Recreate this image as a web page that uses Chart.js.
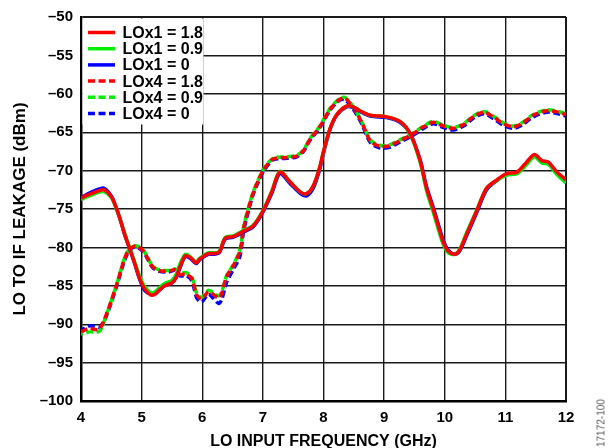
<!DOCTYPE html>
<html>
<head>
<meta charset="utf-8">
<script src="https://cdn.jsdelivr.net/npm/chart.js@4.4.1/dist/chart.umd.min.js"></script>
<style>
  html, body { margin: 0; padding: 0; background: #fff; }
  #wrap { position: relative; width: 611px; height: 448px; overflow: hidden; }
  #fig-id {
    position: absolute; left: 601px; top: 423px;
    transform: translate(-50%, -50%) rotate(-90deg);
    font: 10px 'Liberation Sans', Arial, sans-serif; color: #555; white-space: nowrap;
  }
</style>
</head>
<body>
<div id="wrap">
  <canvas id="chart" width="611" height="448"></canvas>
  <div id="fig-id">17172-100</div>
</div>
<script>
// LO to IF leakage vs LO input frequency

const seriesLabels = ['LOx1 = 1.8', 'LOx1 = 0.9', 'LOx1 = 0', 'LOx4 = 1.8', 'LOx4 = 0.9', 'LOx4 = 0'];
const seriesColors = ['#ff0000', '#00ee00', '#0000ff', '#ff0000', '#00ee00', '#0000ff'];

// LOx1 curves (solid), GHz
const freqSolid = [4.0, 4.1, 4.2, 4.3, 4.38, 4.5, 4.56, 4.64, 4.72, 4.8, 4.89, 4.97, 5.05, 5.15, 5.22,
  5.3, 5.38, 5.5, 5.57, 5.63, 5.72, 5.8, 5.9, 5.96, 6.1, 6.18, 6.28, 6.38, 6.51, 6.68, 6.84, 7.0, 7.15,
  7.28, 7.45, 7.62, 7.72, 7.83, 7.94, 8.0, 8.11, 8.22, 8.38, 8.49, 8.6, 8.77, 9.04, 9.26, 9.43, 9.59,
  9.7, 9.81, 9.92, 9.98, 10.06, 10.17, 10.25, 10.36, 10.53, 10.69, 10.86, 11.02, 11.19, 11.35, 11.48,
  11.6, 11.71, 11.85, 12.0];

const lox1_18 = [-73.6, -73.2, -72.9, -72.6, -72.5, -73.4, -74.4, -76.2, -78.3, -80.1, -82.2, -84.1, -85.4, -86.2, -86.1,
  -85.5, -85.0, -84.6, -83.9, -82.6, -81.1, -81.3, -82.0, -81.5, -80.8, -80.8, -80.6, -78.8, -78.6, -77.9, -77.2, -75.3, -72.7,
  -70.2, -71.5, -72.8, -73.0, -72.0, -69.5, -67.5, -64.5, -62.7, -61.6, -61.7, -62.2, -62.8, -63.0, -63.6, -65.2, -68.6,
  -72.3, -75.0, -77.9, -79.4, -80.5, -80.9, -80.3, -78.3, -75.2, -72.3, -71.2, -70.4, -70.2, -68.9, -67.9,
  -68.7, -68.9, -70.2, -71.2];

const lox1_09 = [-73.8, -73.4, -73.1, -72.8, -72.7, -73.5, -74.5, -76.2, -78.2, -80.0, -82.0, -83.8, -85.1, -85.9, -85.8,
  -85.2, -84.7, -84.3, -83.5, -82.2, -80.9, -81.2, -81.9, -81.4, -80.7, -80.7, -80.5, -78.7, -78.5, -77.8, -77.1, -75.2, -72.6,
  -70.1, -71.5, -72.8, -73.0, -72.0, -69.5, -67.5, -64.5, -62.7, -61.6, -61.7, -62.2, -62.8, -63.0, -63.6, -65.3, -68.8,
  -72.6, -75.4, -78.3, -79.7, -80.7, -80.9, -80.2, -78.1, -75.1, -72.3, -71.3, -70.6, -70.4, -69.2, -68.2,
  -69.0, -69.2, -70.5, -71.6];

const lox1_0 = [-73.5, -73.1, -72.7, -72.4, -72.3, -73.3, -74.4, -76.2, -78.3, -80.1, -82.2, -84.2, -85.6, -86.1, -86.0,
  -85.5, -85.0, -84.6, -83.9, -82.7, -81.2, -81.4, -82.1, -81.6, -80.9, -80.9, -80.7, -78.9, -78.7, -78.0, -77.3, -75.4, -72.9,
  -70.4, -71.7, -73.0, -73.3, -72.3, -69.8, -67.7, -64.6, -62.8, -61.7, -61.8, -62.3, -62.9, -63.1, -63.7, -65.2, -68.5,
  -72.1, -74.8, -77.7, -79.2, -80.4, -80.9, -80.4, -78.5, -75.4, -72.5, -71.3, -70.5, -70.3, -69.0, -68.0,
  -68.8, -69.0, -70.3, -71.3];

// LOx4 curves (dashed), GHz
const freqDash = [4.0, 4.08, 4.15, 4.23, 4.31, 4.42, 4.59, 4.75, 4.89, 5.03, 5.17, 5.28, 5.44, 5.55, 5.63,
  5.74, 5.83, 5.91, 5.99, 6.1, 6.18, 6.27, 6.32, 6.4, 6.51, 6.62, 6.68, 6.76, 6.84, 6.93, 7.01, 7.17,
  7.39, 7.56, 7.67, 7.78, 7.94, 8.11, 8.27, 8.36, 8.49, 8.63, 8.77, 8.91, 9.07, 9.26, 9.48, 9.65, 9.81,
  9.98, 10.14, 10.31, 10.47, 10.64, 10.8, 10.97, 11.13, 11.27, 11.46, 11.68, 11.82, 12.0];

const lox4_18 = [-91.0, -90.7, -90.5, -90.7, -90.6, -88.7, -84.8, -80.9, -79.8, -80.5, -82.4, -83.0, -83.1, -82.9, -83.5,
  -83.5, -84.1, -86.2, -86.7, -85.8, -86.1, -86.6, -86.0, -83.8, -82.4, -80.5, -77.6, -75.0, -72.9, -71.2, -69.9, -68.5,
  -68.3, -68.1, -67.4, -65.9, -64.3, -62.0, -60.7, -60.6, -61.8, -63.7, -66.1, -66.8, -66.8, -66.1, -65.2, -64.3, -63.7,
  -64.2, -64.5, -64.0, -63.0, -62.4, -63.0, -63.9, -64.3, -63.9, -62.8, -62.2, -62.3, -62.7];

const lox4_09 = [-91.3, -91.1, -91.0, -91.0, -90.9, -88.8, -84.8, -80.8, -79.8, -80.4, -82.3, -82.9, -83.0, -82.8, -83.3,
  -83.3, -83.9, -86.0, -86.5, -85.6, -85.9, -86.3, -85.8, -83.7, -82.3, -80.3, -77.4, -74.9, -72.8, -71.1, -69.8, -68.4,
  -68.2, -68.0, -67.3, -65.8, -64.2, -61.9, -60.6, -60.5, -61.7, -63.6, -66.0, -66.7, -66.7, -66.0, -65.1, -64.2, -63.6,
  -64.1, -64.4, -63.9, -62.9, -62.3, -62.9, -63.8, -64.2, -63.8, -62.7, -62.1, -62.2, -62.6];

const lox4_0 = [-90.9, -90.4, -90.2, -90.3, -90.4, -88.9, -85.0, -81.1, -79.9, -80.6, -82.5, -83.1, -83.2, -83.0, -83.7,
  -83.7, -84.4, -86.6, -87.1, -86.1, -86.6, -87.3, -86.8, -84.6, -82.9, -81.2, -78.0, -75.3, -73.1, -71.4, -70.1, -68.6,
  -68.4, -68.2, -67.5, -66.0, -64.4, -62.1, -60.8, -60.8, -62.0, -63.9, -66.3, -67.0, -67.0, -66.3, -65.4, -64.5, -63.9,
  -64.4, -64.7, -64.2, -63.2, -62.6, -63.2, -64.1, -64.5, -64.1, -63.0, -62.4, -62.5, -62.9];

const xTicks = [4, 5, 6, 7, 8, 9, 10, 11, 12];
const yTicks = [-100, -95, -90, -85, -80, -75, -70, -65, -60, -55, -50];

const FONT = "'Liberation Sans', Arial, sans-serif";
Chart.defaults.font.family = FONT;
Chart.defaults.color = '#000';

function pts(xs, ys) {
  return xs.map((x, i) => ({ x, y: ys[i] }));
}

function makeSet(i, xs, ys, dashed, dashOffset) {
  return {
    label: seriesLabels[i],
    data: pts(xs, ys),
    borderColor: seriesColors[i],
    borderWidth: 3.5,
    borderDash: dashed ? [7, 3.5] : [],
    borderDashOffset: dashOffset || 0,
    pointRadius: 0,
    tension: 0.3,
    fill: false
  };
}

// legend drawn inside the plot, top-left, on a white box
const insideLegend = {
  id: 'insideLegend',
  afterDatasetsDraw(chart) {
    const ctx = chart.ctx;
    const a = chart.chartArea;
    ctx.save();
    ctx.fillStyle = '#fff';
    ctx.fillRect(a.left + 1.5, a.top + 1.5, 121, 106);
    ctx.font = 'bold 16px ' + FONT;
    ctx.textBaseline = 'middle';
    ctx.textAlign = 'left';
    chart.data.datasets.forEach((ds, i) => {
      const y = a.top + 15.5 + i * 16.2;
      ctx.strokeStyle = ds.borderColor;
      ctx.lineWidth = 3.5;
      ctx.setLineDash(ds.borderDash || []);
      ctx.beginPath();
      ctx.moveTo(a.left + 7, y);
      ctx.lineTo(a.left + 34, y);
      ctx.stroke();
      ctx.setLineDash([]);
      ctx.fillStyle = '#000';
      ctx.fillText(ds.label, a.left + 41.5, y + 1);
    });
    ctx.restore();
  }
};

const edgeWidth = (n) => (c) => (c.index === 0 || c.index === n - 1) ? 2 : 1.4;

new Chart(document.getElementById('chart'), {
  type: 'line',
  data: {
    datasets: [
      makeSet(0, freqSolid, lox1_18, false),
      makeSet(1, freqSolid, lox1_09, false),
      makeSet(2, freqSolid, lox1_0, false),
      makeSet(3, freqDash, lox4_18, true, 0),
      makeSet(4, freqDash, lox4_09, true, 5),
      makeSet(5, freqDash, lox4_0, true, 2)
    ]
  },
  options: {
    responsive: false,
    animation: false,
    devicePixelRatio: 1,
    layout: { padding: { top: 14, right: 45, bottom: 0, left: 0 } },
    plugins: {
      legend: { display: false },
      tooltip: { enabled: false }
    },
    scales: {
      x: {
        type: 'linear',
        min: xTicks[0],
        max: xTicks[xTicks.length - 1],
        afterBuildTicks: (s) => { s.ticks = xTicks.map(v => ({ value: v })); },
        afterFit: (s) => { s.height = 47; },
        ticks: { font: { size: 15, weight: 'bold' }, padding: 8, maxRotation: 0 },
        grid: { color: '#1a1a1a', lineWidth: edgeWidth(xTicks.length), drawTicks: false },
        border: { color: '#000', width: 2.5 },
        title: {
          display: true,
          text: 'LO INPUT FREQUENCY (GHz)',
          font: { size: 16, weight: 'bold', lineHeight: 1 },
          padding: { top: 0, bottom: -2 }
        }
      },
      y: {
        min: yTicks[0],
        max: yTicks[yTicks.length - 1],
        afterBuildTicks: (s) => { s.ticks = yTicks.map(v => ({ value: v })); },
        afterFit: (s) => { s.width = 81; },
        ticks: {
          font: { size: 15, weight: 'bold' },
          padding: 8,
          callback: (v) => String(v).replace('-', '\u2013')
        },
        grid: { color: '#1a1a1a', lineWidth: edgeWidth(yTicks.length), drawTicks: false },
        border: { color: '#000', width: 2.5 },
        title: {
          display: true,
          text: 'LO TO IF LEAKAGE (dBm)',
          font: { size: 17, weight: 'bold', lineHeight: 1.2 },
          padding: { top: 10, bottom: 0 }
        }
      }
    }
  },
  plugins: [insideLegend]
});
</script>
</body>
</html>
